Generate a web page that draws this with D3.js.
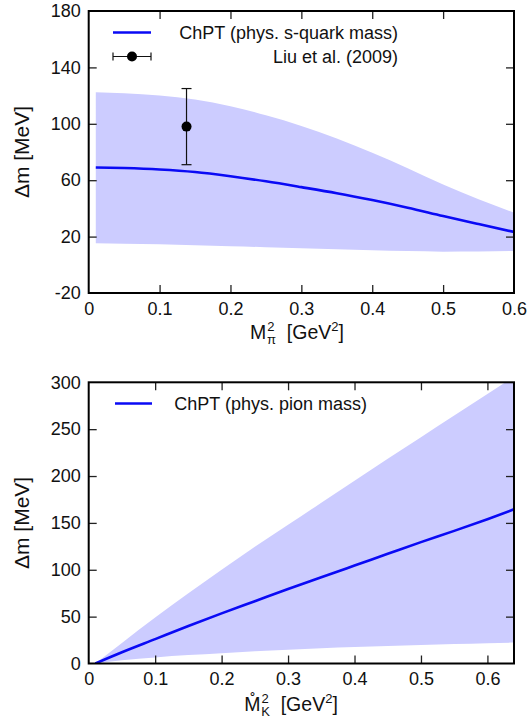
<!DOCTYPE html>
<html>
<head>
<meta charset="utf-8">
<script src="https://cdn.jsdelivr.net/npm/d3@7"></script>
<style>
  body { margin: 0; background: #fff; }
  text { font-family: "Liberation Sans", Arial, Helvetica, sans-serif; fill: #111; }
</style>
</head>
<body>
<svg id="chart" width="527" height="723"></svg>
<script>
// top panel: versus M_pi^2 (phys. s-quark mass)
const xPi = [0.01, 0.05, 0.1, 0.15, 0.2, 0.25, 0.3, 0.35, 0.4, 0.45, 0.5, 0.55, 0.6]
const upperPi = [122.3, 121.6, 120, 117.2, 112.5, 106, 98.5, 89.5, 79.5, 68.5, 57, 46.5, 37]
const centralPi = [69, 68.6, 67.6, 65.8, 62.8, 59.2, 55.1, 50.8, 45.9, 40.5, 34.6, 28.9, 23.3]
const lowerPi = [15.3, 15, 14.5, 13.8, 13.2, 12.5, 11.8, 11, 10.3, 9.7, 9.3, 9.4, 9.8]
const liuPoint = [{x: 0.138, y: 98, err: 27}]
const yTicksPi = [-20, 20, 60, 100, 140, 180]
const xTicksPi = [0, 0.1, 0.2, 0.3, 0.4, 0.5, 0.6]

// bottom panel: versus chiral-limit M_K^2 (phys. pion mass)
const xK = [0.01, 0.05, 0.1, 0.15, 0.2, 0.25, 0.3, 0.35, 0.4, 0.45, 0.5, 0.55, 0.6, 0.64]
const upperK = [0, 22, 49, 75, 100, 124.5, 148, 171.5, 195, 218.5, 241.5, 264.5, 287.5, 306]
const centralK = [0, 12, 26, 40, 53.5, 66.5, 79.5, 92, 104.5, 117, 129.5, 141.5, 154, 164.5]
const lowerK = [0, 3.5, 6.5, 9, 11, 13, 14.7, 16.2, 17.5, 18.7, 19.8, 20.8, 21.7, 22.3]
const yTicksK = [0, 50, 100, 150, 200, 250, 300]
const xTicksK = [0, 0.1, 0.2, 0.3, 0.4, 0.5, 0.6]

const bandColor = '#ccccff'
const lineColor = '#0a0af5'
const fontSize = 18
const labelSize = 19.5
const tickLen = 8

const svg = d3.select('#chart')

function drawPanel(cfg) {
  const g = svg.append('g')
  const xScale = d3.scaleLinear().domain(cfg.xDomain).range([cfg.left, cfg.right])
  const yScale = d3.scaleLinear().domain(cfg.yDomain).range([cfg.bottom, cfg.top])

  const clipId = 'clip' + cfg.id
  svg.append('clipPath').attr('id', clipId)
    .append('rect')
    .attr('x', cfg.left).attr('y', cfg.top)
    .attr('width', cfg.right - cfg.left).attr('height', cfg.bottom - cfg.top)

  const rows = cfg.xs.map((x, i) => ({x: x, lo: cfg.lower[i], hi: cfg.upper[i], c: cfg.central[i]}))

  const area = d3.area()
    .curve(d3.curveMonotoneX)
    .x(d => xScale(d.x))
    .y0(d => yScale(d.lo))
    .y1(d => yScale(d.hi))

  const line = d3.line()
    .curve(d3.curveMonotoneX)
    .x(d => xScale(d.x))
    .y(d => yScale(d.c))

  const plot = g.append('g').attr('clip-path', `url(#${clipId})`)
  plot.append('path')
    .datum(rows)
    .attr('fill', bandColor)
    .attr('d', area)
  plot.append('path')
    .datum(rows)
    .attr('fill', 'none')
    .attr('stroke', lineColor)
    .attr('stroke-width', 2.6)
    .attr('d', line)

  // axes: ticks pointing inward on all four sides
  const axes = [
    {axis: d3.axisBottom(xScale), t: `translate(0,${cfg.bottom})`, labels: true},
    {axis: d3.axisTop(xScale), t: `translate(0,${cfg.top})`, labels: false},
    {axis: d3.axisLeft(yScale), t: `translate(${cfg.left},0)`, labels: true},
    {axis: d3.axisRight(yScale), t: `translate(${cfg.right},0)`, labels: false}
  ]
  axes.forEach((a, i) => {
    const isX = i < 2
    a.axis.tickValues(isX ? cfg.xTicks : cfg.yTicks)
      .tickSizeInner(-tickLen).tickSizeOuter(0)
      .tickPadding(isX ? 9 : 8)
      .tickFormat(a.labels ? (d => String(d)) : '')
    const ag = g.append('g').attr('transform', a.t).call(a.axis)
    ag.select('.domain').remove()
    ag.selectAll('.tick line').attr('stroke', '#222').attr('stroke-width', 1.3)
    ag.selectAll('.tick text')
      .style('font-size', fontSize + 'px')
      .style('font-family', '"Liberation Sans", Arial, sans-serif')
      .attr('fill', '#111')
    // hide ticks sitting on the frame corners
    ag.selectAll('.tick').filter(d => isX ? (d === cfg.xDomain[0] || d === cfg.xDomain[1]) : (d === cfg.yDomain[0] || d === cfg.yDomain[1]))
      .select('line').remove()
  })

  g.append('rect')
    .attr('x', cfg.left).attr('y', cfg.top)
    .attr('width', cfg.right - cfg.left).attr('height', cfg.bottom - cfg.top)
    .attr('fill', 'none')
    .attr('stroke', '#000')
    .attr('stroke-width', 2)

  // y label
  g.append('text')
    .attr('transform', `translate(${cfg.yLabelX},${(cfg.top + cfg.bottom) / 2}) rotate(-90)`)
    .attr('text-anchor', 'middle')
    .attr('dy', '0.35em')
    .style('font-size', '21px')
    .text('\u0394m [MeV]')

  // x label
  const xl = g.append('text')
    .attr('x', cfg.xLabelX).attr('y', cfg.xLabelY)
    .attr('text-anchor', 'middle')
    .style('font-size', labelSize + 'px')
  xl.append('tspan').text(cfg.xSym)
  xl.append('tspan').attr('dx', 1).attr('dy', -8).style('font-size', '13px').text('2')
  xl.append('tspan').attr('dx', -7.5).attr('dy', 13).style('font-size', '13px').text(cfg.xSub)
  xl.append('tspan').attr('dy', -5).text('\u00a0 [GeV')
  xl.append('tspan').attr('dy', -8).style('font-size', '13px').text('2')
  xl.append('tspan').attr('dy', 8).text(']')

  return {g: g, xScale: xScale, yScale: yScale}
}

const topPanel = drawPanel({
  id: 'pi', xs: xPi, upper: upperPi, central: centralPi, lower: lowerPi,
  xDomain: [0, 0.6], yDomain: [-20, 180], xTicks: xTicksPi, yTicks: yTicksPi,
  left: 88.7, right: 514, top: 11, bottom: 293,
  yLabelX: 22, xLabelX: 297, xLabelY: 339, xSym: 'M', xSub: '\u03c0'
})

const bottomPanel = drawPanel({
  id: 'k', xs: xK, upper: upperK, central: centralK, lower: lowerK,
  xDomain: [0, 0.64], yDomain: [0, 300], xTicks: xTicksK, yTicks: yTicksK,
  left: 88.7, right: 514, top: 382.3, bottom: 663.5,
  yLabelX: 22, xLabelX: 291, xLabelY: 711, xSym: 'M\u030A', xSub: 'K'
})

// Liu et al. (2009) data point
topPanel.g.selectAll('.liu')
  .data(liuPoint)
  .enter().append('g')
  .each(function(d) {
    const p = d3.select(this)
    const cx = topPanel.xScale(d.x)
    p.append('line')
      .attr('x1', cx).attr('x2', cx)
      .attr('y1', topPanel.yScale(d.y - d.err)).attr('y2', topPanel.yScale(d.y + d.err))
      .attr('stroke', '#111').attr('stroke-width', 1.2)
    ;[d.y - d.err, d.y + d.err].forEach(v => {
      p.append('line')
        .attr('x1', cx - 5).attr('x2', cx + 5)
        .attr('y1', topPanel.yScale(v)).attr('y2', topPanel.yScale(v))
        .attr('stroke', '#111').attr('stroke-width', 1.2)
    })
    p.append('circle').attr('cx', cx).attr('cy', topPanel.yScale(d.y)).attr('r', 5).attr('fill', '#000')
  })

// legends
function legendLine(g, x1, x2, y) {
  g.append('line').attr('x1', x1).attr('x2', x2).attr('y1', y).attr('y2', y)
    .attr('stroke', lineColor).attr('stroke-width', 2.6)
}
function legendText(g, x, y, txt) {
  g.append('text').attr('x', x).attr('y', y).attr('dy', '0.35em')
    .attr('text-anchor', 'end').style('font-size', fontSize + 'px').text(txt)
}

legendLine(topPanel.g, 113, 151, 32.5)
legendText(topPanel.g, 398, 32.5, 'ChPT (phys. s-quark mass)')
topPanel.g.append('line').attr('x1', 113).attr('x2', 151).attr('y1', 56.5).attr('y2', 56.5)
  .attr('stroke', '#111').attr('stroke-width', 1.2)
;[113, 151].forEach(x => {
  topPanel.g.append('line').attr('x1', x).attr('x2', x).attr('y1', 52.5).attr('y2', 60.5)
    .attr('stroke', '#111').attr('stroke-width', 1.2)
})
topPanel.g.append('circle').attr('cx', 132).attr('cy', 56.5).attr('r', 5).attr('fill', '#000')
legendText(topPanel.g, 398, 56.5, 'Liu et al. (2009)')

legendLine(bottomPanel.g, 115, 152, 403.5)
legendText(bottomPanel.g, 367, 403.5, 'ChPT (phys. pion mass)')
</script>
</body>
</html>
